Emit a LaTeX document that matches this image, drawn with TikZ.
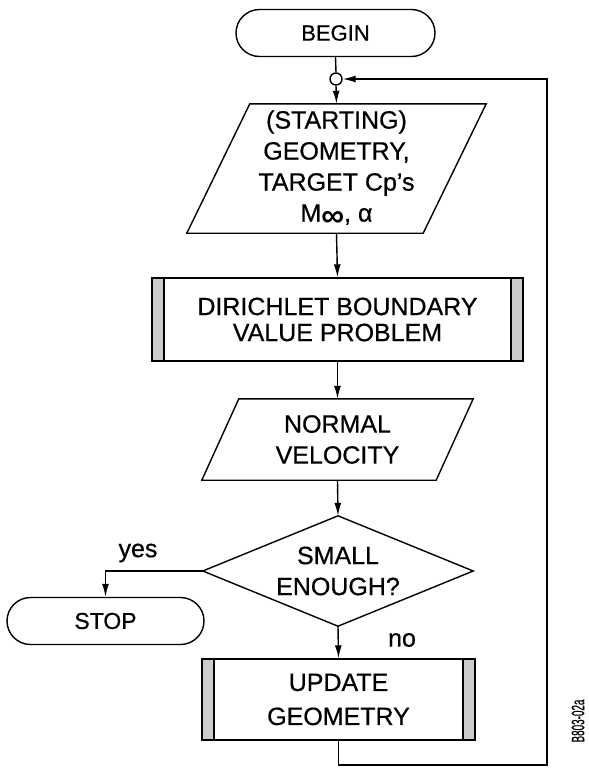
\documentclass[tikz,border=0pt]{standalone}
\usepackage{fontspec}
\setmainfont{Liberation Sans}[UprightFeatures={FakeBold=0.6}]
\usetikzlibrary{shapes.geometric,shapes.misc,arrows.meta,calc}
\tikzset{
  every node/.style={font=\fontsize{25}{31}\selectfont},
  line/.style={line width=1.4pt},
  arr/.style={line width=1.4pt,-{Latex[length=13pt,width=7pt]}},
  term/.style={draw,line width=1.4pt,rounded rectangle,inner sep=0pt,minimum height=47pt,font=\fontsize{22}{26}\selectfont},
  iobox/.style={inner sep=0pt,align=center},
  procbox/.style={draw,line width=1.4pt,inner sep=0pt,align=center,
    path picture={
      \fill[gray!40] (path picture bounding box.north west) rectangle ([xshift=12pt]path picture bounding box.south west);
      \fill[gray!40] (path picture bounding box.north east) rectangle ([xshift=-12pt]path picture bounding box.south east);
      \draw[line width=1.4pt] ([xshift=12pt]path picture bounding box.north west) -- ([xshift=12pt]path picture bounding box.south west);
      \draw[line width=1.4pt] ([xshift=-12pt]path picture bounding box.north east) -- ([xshift=-12pt]path picture bounding box.south east);
    }},
  decbox/.style={inner sep=0pt,align=center},
  lbl/.style={inner sep=0pt},
}
\begin{document}
\begin{tikzpicture}[x=1pt,y=-1pt]
\useasboundingbox (0,0) rectangle (589,769);

% nodes
\node[term,minimum width=199pt] (begin) at (335.5,33) {BEGIN};
\node[draw,line width=1.4pt,circle,minimum size=12pt,inner sep=0pt] (join) at (336,79) {};

\node[iobox,minimum width=299pt,minimum height=129pt] (geo) at (336.5,168.5)
  {(STARTING)\\GEOMETRY,\\TARGET Cp's\\M\raisebox{-5pt}{\fontsize{32}{32}\selectfont\bfseries ∞}, α};
\draw[line] (geo.south west) -- ([xshift=-63pt]geo.south east) -- (geo.north east) -- ([xshift=63pt]geo.north west) -- cycle;

\node[procbox,minimum width=371pt,minimum height=83pt,font=\fontsize{25}{26}\selectfont] (dir) at (337.5,319.5)
  {DIRICHLET BOUNDARY\\VALUE PROBLEM};

\node[iobox,minimum width=271pt,minimum height=81pt] (nv) at (337.5,439.5)
  {NORMAL\\VELOCITY};
\draw[line] (nv.south west) -- ([xshift=-37pt]nv.south east) -- (nv.north east) -- ([xshift=37pt]nv.north west) -- cycle;

\node[decbox,minimum width=270pt,minimum height=110pt] (dec) at (338,571)
  {SMALL\\ENOUGH?};
\draw[line] (dec.north) -- (dec.east) -- (dec.south) -- (dec.west) -- cycle;

\node[term,minimum width=197pt,font=\fontsize{23}{26}\selectfont] (stop) at (105.5,621) {STOP};

\node[procbox,minimum width=273pt,minimum height=81pt,font=\fontsize{25}{34}\selectfont] (upd) at (338.5,699.5)
  {UPDATE\\GEOMETRY};

\node[lbl] (yes) at (138,553) {yes};
\node[lbl] (no) at (402,640) {no};
\node[lbl,rotate=90] (tag) at (578,721) {\scalebox{0.55}[1]{\fontsize{18}{18}\selectfont B803-02a}};

\coordinate (fb) at (547,765);

% connectors
\draw[line] (begin.south) -- (join.north);
\draw[arr] (join.south) -- (geo.north);
\draw[arr] (geo.south) -- (dir.north);
\draw[arr] (dir.south) -- (nv.north);
\draw[arr] (nv.south) -- (dec.north);
\draw[arr] (dec.south) -- (upd.north);
\draw[arr] (dec.west) -| (stop.north);
\draw[arr] (upd.south) |- (fb) |- (join.east);
\end{tikzpicture}
\end{document}
